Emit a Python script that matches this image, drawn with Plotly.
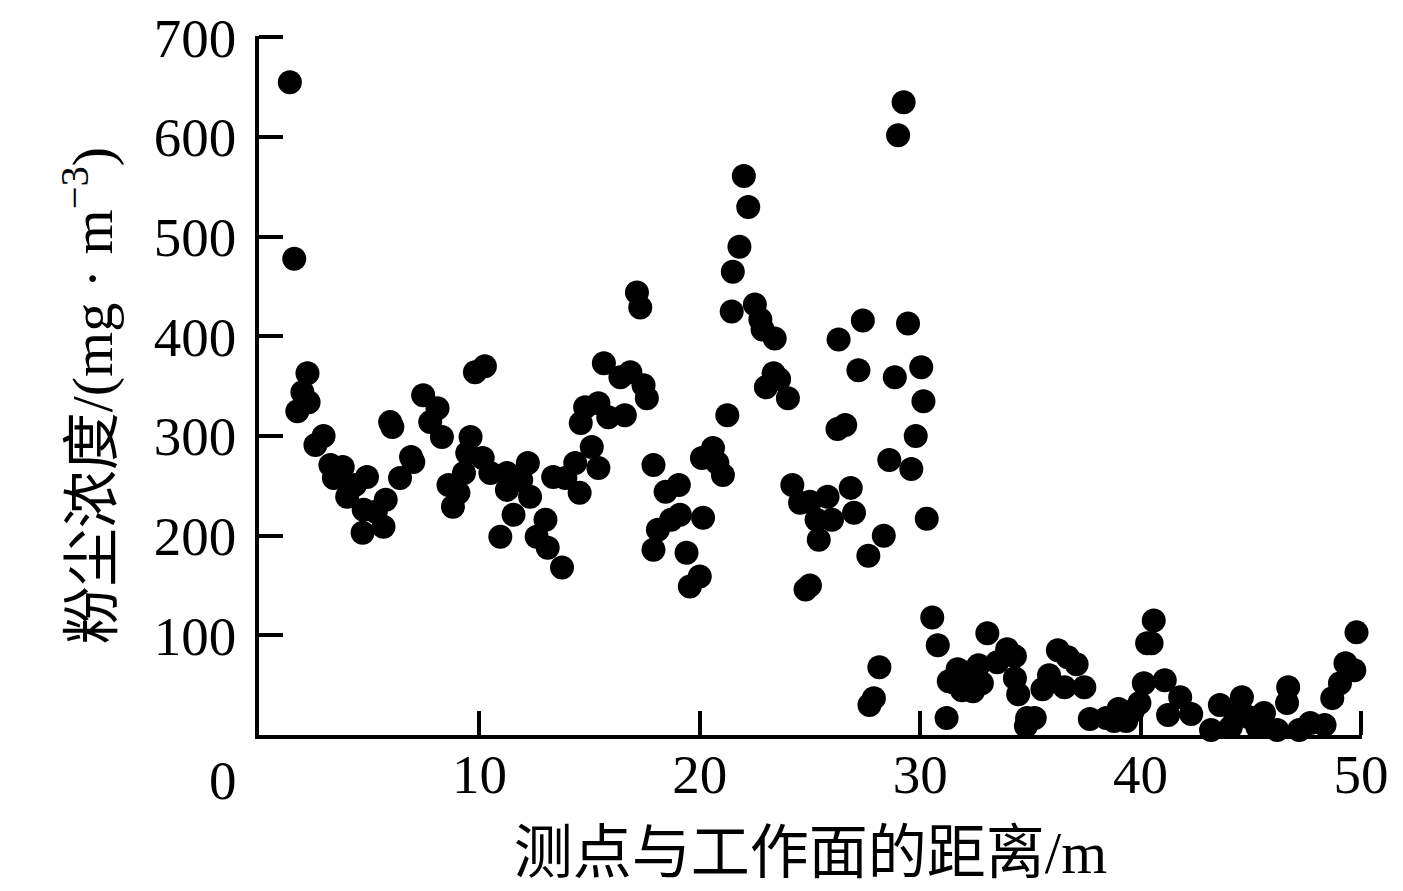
import plotly.graph_objects as go

# distance from working face (m) and dust concentration (mg/m3)
distance = [
    1.4, 1.6, 1.74, 1.97, 2.2, 2.25, 2.56, 2.93, 3.24, 3.4, 3.8, 4.0, 4.35, 4.7, 4.75, 4.9,
    5.3, 5.65, 5.75, 5.95, 6.05, 6.4, 6.9, 7.0, 7.45, 7.77, 8.1, 8.3, 8.6, 8.8, 9.05, 9.3,
    9.45, 9.6, 9.8, 10.15, 10.25, 10.5, 10.95, 11.25, 11.25, 11.55, 11.9, 12.2, 12.3, 12.6,
    13.0, 13.1, 13.35, 13.75, 13.9, 14.35, 14.55, 14.6, 14.8, 15.1, 15.4, 15.4, 15.65, 15.85,
    16.4, 16.6, 16.85, 17.15, 17.3, 17.45, 17.6, 17.9, 17.9, 18.1, 18.45, 18.7, 19.05, 19.1,
    19.4, 19.55, 20.0, 20.1, 20.15, 20.6, 20.8, 21.05, 21.25, 21.45, 21.5, 21.8, 22.0, 22.2,
    22.5, 22.75, 22.85, 23.0, 23.35, 23.4, 23.6, 24.0, 24.2, 24.55, 24.8, 25.0, 25.0, 25.3,
    25.4, 25.8, 26.0, 26.25, 26.3, 26.6, 26.85, 27.0, 27.2, 27.4, 27.65, 27.7, 27.9, 28.15,
    28.35, 28.6, 28.85, 29.0, 29.25, 29.45, 29.6, 29.8, 30.05, 30.15, 30.3, 30.55, 30.8, 31.2,
    31.3, 31.7, 31.5, 31.9, 32.0, 32.4, 32.65, 32.8, 33.05, 33.5, 33.95, 34.3, 34.3, 34.45,
    34.85, 34.8, 35.2, 35.55, 35.85, 36.25, 36.55, 36.7, 37.1, 37.45, 37.7, 38.45, 38.8, 39.0,
    39.35, 39.65, 39.95, 40.15, 40.3, 40.6, 40.5, 41.1, 41.25, 41.8, 42.3, 43.2, 43.6, 44.1,
    44.3, 44.6, 44.9, 45.3, 45.6, 46.2, 46.7, 46.65, 47.2, 47.7, 48.35, 48.7, 49.05, 49.3,
    49.7, 49.8,
]
dust = [
    655, 478, 325, 344, 363, 334, 291, 300, 271, 258, 269, 239, 251, 203, 226, 259,
    224, 209, 236, 314, 309, 258, 279, 274, 341, 314, 328, 299, 251, 229, 243, 263,
    283, 299, 364, 278, 370, 263, 199, 263, 246, 221, 256, 273, 239, 199,
    216, 188, 259, 168, 258, 273, 243, 313, 329, 289, 333, 268, 373, 319,
    359, 321, 364, 444, 429, 351, 338, 271, 186, 206, 244, 216, 251, 221,
    183, 149, 159, 278, 218, 288, 273, 261, 321, 425, 465, 490, 561, 530,
    432, 417, 407, 349, 363, 398, 357, 338, 251, 233, 146, 150, 234, 216,
    196, 239, 216, 307, 397, 311, 248, 223, 366, 416, 180, 30, 37, 68,
    200, 276, 359, 602, 635, 413, 267, 300, 369, 335, 217, 118, 90, 17,
    54, 66, 53, 45, 63, 44, 70, 52, 102, 73, 86, 79, 57, 41,
    17, 9, 17, 46, 60, 85, 48, 78, 71, 48, 16, 17, 14, 26,
    14, 24, 32, 52, 92, 115, 92, 55, 20, 38, 21, 5, 30, 8,
    20, 38, 18, 8, 22, 5, 48, 32, 5, 12, 10, 37, 52, 72,
    65, 103,
]

x_ticks = [10, 20, 30, 40, 50]
y_ticks = [100, 200, 300, 400, 500, 600, 700]

font_main = "Liberation Serif, Times New Roman, Noto Sans CJK SC"

fig = go.Figure()
fig.add_trace(go.Scatter(
    x=distance, y=dust, mode="markers",
    marker=dict(color="black", size=24, line=dict(width=0)),
    cliponaxis=False, showlegend=False,
))

axis_common = dict(
    showline=True, linecolor="black", linewidth=3.5,
    ticks="inside", ticklen=24, tickwidth=3.5, tickcolor="black",
    showgrid=False, zeroline=False, automargin=False,
    ticklabeloverflow="allow",
    tickfont=dict(family=font_main, size=55, color="black"),
)

# page body adds ~8px offset, margins compensate for it
fig.update_layout(
    width=1403, height=891,
    margin=dict(l=251, r=49, t=28, b=164),
    plot_bgcolor="white", paper_bgcolor="white",
    font=dict(family=font_main, color="black"),
    xaxis=dict(
        range=[0, 50.05], tickvals=x_ticks, **axis_common,
        title=dict(text="测点与工作面的距离/m", font=dict(family=font_main, size=59), standoff=29),
        ticklabelstandoff=-12,
    ),
    yaxis=dict(
        range=[0, 701.5], tickvals=y_ticks, **axis_common,
        ticklabelstandoff=8,
    ),
    annotations=[
        dict(
            text="0", xref="paper", yref="paper", x=-0.0326, y=-0.0645,
            xanchor="center", yanchor="middle", showarrow=False,
            font=dict(family=font_main, size=55, color="black"),
        ),
        dict(
            text="粉尘浓度/(mg · m<sup>−3</sup>)", xref="paper", yref="paper",
            x=-0.155, y=0.486, textangle=-90,
            xanchor="center", yanchor="middle", showarrow=False,
            font=dict(family=font_main, size=58, color="black"),
        ),
    ],
)

fig.write_html("out.html")
